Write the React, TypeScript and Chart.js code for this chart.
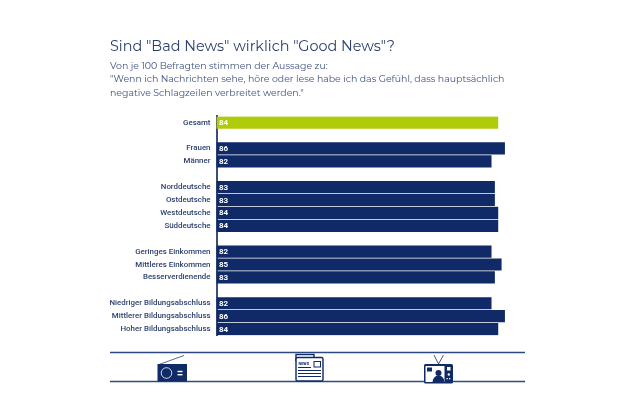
import React, { useEffect, useRef } from "react";
import { Chart, registerables } from "chart.js";

Chart.register(...registerables);

const categories = [
  "Gesamt", "",
  "Frauen", "Männer", "",
  "Norddeutsche", "Ostdeutsche", "Westdeutsche", "Süddeutsche", "",
  "Geringes Einkommen", "Mittleres Einkommen", "Besserverdienende", "",
  "Niedriger Bildungsabschluss", "Mittlerer Bildungsabschluss", "Hoher Bildungsabschluss",
];
const values: (number | null)[] = [
  84, null,
  86, 82, null,
  83, 83, 84, 84, null,
  82, 85, 83, null,
  82, 86, 84,
];
const titleText = 'Sind "Bad News" wirklich "Good News"?';
const subtitleLines = [
  "Von je 100 Befragten stimmen der Aussage zu:",
  '"Wenn ich Nachrichten sehe, höre oder lese habe ich das Gefühl, dass hauptsächlich',
  'negative Schlagzeilen verbreitet werden."',
];

const NAVY = "#0f2a66";
const GREEN = "#b0cb0a";
const HEAD = "Montserrat, 'Open Sans', 'Noto Sans', sans-serif";

const valueLabels = {
  id: "valueLabels",
  afterDatasetsDraw(chart: any) {
    const meta = chart.getDatasetMeta(0);
    const ctx = chart.ctx;
    ctx.save();
    ctx.font = "bold 8px Roboto";
    ctx.fillStyle = "#ffffff";
    ctx.textAlign = "left";
    ctx.textBaseline = "middle";
    meta.data.forEach((bar: any, i: number) => {
      if (values[i] == null) return;
      ctx.fillText(String(values[i]), chart.chartArea.left + 2.5, bar.y + 0.5);
    });
    ctx.restore();
  },
};

function Icons() {
  const c = NAVY;
  return (
    <svg width={630} height={420} style={{ position: "absolute", left: 0, top: 0, pointerEvents: "none" }}>
      <line x1={110} x2={525} y1={352.5} y2={352.5} stroke="#2c4a80" strokeWidth={1.4} />
      <line x1={110} x2={525} y1={381.5} y2={381.5} stroke="#2c4a80" strokeWidth={1.4} />
      {/* radio */}
      <line x1={159} y1={364.5} x2={184} y2={355.5} stroke={c} strokeWidth={0.7} />
      <rect x={157.5} y={364} width={29.5} height={17.5} fill={c} />
      <circle cx={166.5} cy={373} r={5.3} fill="none" stroke="#fff" strokeWidth={0.8} />
      <rect x={177.5} y={370.8} width={5} height={1.4} fill="#fff" />
      <rect x={177.5} y={374} width={5} height={1.4} fill="#fff" />
      {/* newspaper */}
      <rect x={296} y={354.5} width={18} height={6} fill="#fff" stroke={c} strokeWidth={1.4} />
      <rect x={296} y={357.5} width={27} height={23.5} rx={1.5} fill="#fff" stroke={c} strokeWidth={1.4} />
      <text x={298.5} y={365} fontSize={3.8} fontWeight="bold" fontFamily="Roboto" fill={c}>NEWS</text>
      <rect x={314} y={361.5} width={6.5} height={5.5} fill="#fff" stroke={c} strokeWidth={1} />
      <line x1={298} x2={311} y1={367.5} y2={367.5} stroke={c} strokeWidth={1} />
      <line x1={298} x2={321} y1={370.5} y2={370.5} stroke={c} strokeWidth={1} />
      <line x1={298} x2={321} y1={373.5} y2={373.5} stroke={c} strokeWidth={1} />
      <line x1={298} x2={321} y1={376.5} y2={376.5} stroke={c} strokeWidth={1} />
      {/* television */}
      <line x1={438.5} y1={364} x2={434} y2={355} stroke={c} strokeWidth={0.8} />
      <line x1={438.5} y1={364} x2={443.5} y2={355} stroke={c} strokeWidth={0.8} />
      <rect x={424} y={364} width={29} height={19.5} rx={1.5} fill={c} />
      <rect x={425.5} y={366} width={19} height={16} fill="#fff" />
      <rect x={427} y={367.5} width={5} height={4} fill={c} />
      <circle cx={438.5} cy={373} r={3} fill={c} />
      <path d="M432.5 382 Q433 376 438.5 375.5 Q444 376 444.5 382 Z" fill={c} />
      <rect x={447} y={367} width={3.5} height={3.5} fill="#fff" />
      <circle cx={448.8} cy={374.5} r={1.2} fill="#fff" />
      <rect x={446.5} y={378} width={1.3} height={1.3} fill="#fff" />
      <rect x={449} y={378} width={1.3} height={1.3} fill="#fff" />
    </svg>
  );
}

export default function App() {
  const ref = useRef<HTMLCanvasElement | null>(null);
  useEffect(() => {
    if (!ref.current) return;
    const chart = new Chart(ref.current, {
      type: "bar",
      data: {
        labels: categories,
        datasets: [
          {
            data: values,
            backgroundColor: values.map((_, i) => (i === 0 ? GREEN : NAVY)),
            barThickness: 11.5,
          },
        ],
      },
      plugins: [valueLabels],
      options: {
        indexAxis: "y",
        animation: false,
        responsive: false,
        devicePixelRatio: 1,
        layout: { padding: { left: 110, right: 78.5, top: 38, bottom: 84.5 } },
        plugins: {
          legend: { display: false },
          tooltip: { enabled: false },
          title: {
            display: true,
            text: titleText,
            align: "start",
            color: "#2a3f6e",
            font: { family: HEAD, size: 14.4, weight: "normal" },
            padding: { top: 0, bottom: 4 },
          },
          subtitle: {
            display: true,
            text: subtitleLines,
            align: "start",
            color: "#3f5280",
            font: { family: HEAD, size: 9.4, weight: "normal", lineHeight: 1.45 },
            padding: { top: 0, bottom: 16 },
          },
        },
        scales: {
          x: { display: false, min: 0, max: 100 },
          y: {
            afterFit: (s: any) => {
              s.width = 106.5;
            },
            grid: { display: false, drawTicks: false },
            border: { display: true, color: "#3d4f78", width: 2 },
            ticks: {
              autoSkip: false,
              padding: 6,
              color: "#2f4270",
              font: { family: "Roboto", size: 7.9, weight: "500" },
            },
          },
        },
      } as any,
    });
    return () => chart.destroy();
  }, []);
  return (
    <div style={{ position: "absolute", left: 0, top: 0, width: 630, height: 420, background: "#fff" }}>
      <canvas ref={ref} width={630} height={420} style={{ display: "block" }} />
      <Icons />
    </div>
  );
}
